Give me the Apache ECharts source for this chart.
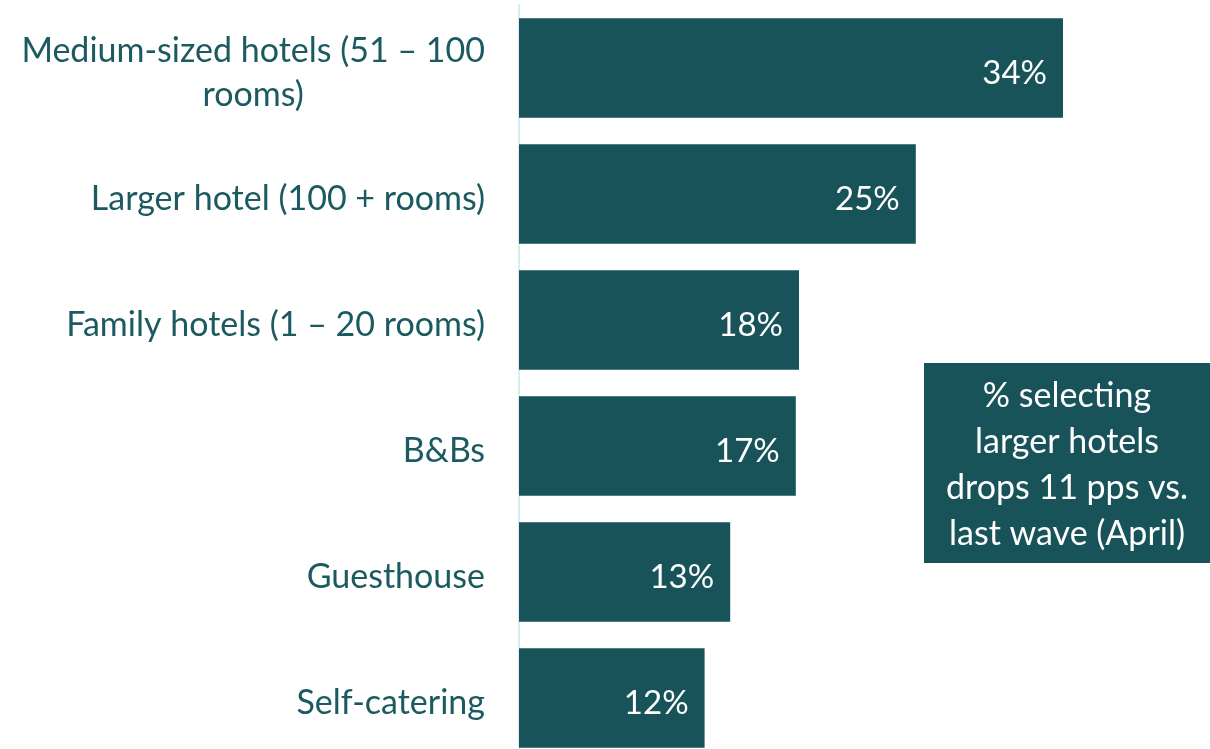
<!DOCTYPE html>
<html>
<head>
<meta charset="utf-8">
<script src="https://cdn.jsdelivr.net/npm/echarts@6/dist/echarts.min.js"></script>
<style>
  html, body { margin: 0; padding: 0; background: #fff; }
  #chart { width: 1210px; height: 749px; }
</style>
</head>
<body>
<div id="chart"></div>
<script>
  // accommodation types, top to bottom
  var categories = [
    'Medium-sized hotels (51 – 100\nrooms)',
    'Larger hotel (100 + rooms)',
    'Family hotels (1 – 20 rooms)',
    'B&Bs',
    'Guesthouse',
    'Self-catering'
  ];
  // share selecting each type (%); labels are rounded
  var shares = [34, 24.8, 17.5, 17.3, 13.2, 11.6];
  var noteText = '% selecting\nlarger hotels\ndrops 11 pps vs.\nlast wave (April)';

  var teal = '#19535a';
  var fontName = 'Lato, "Open Sans", sans-serif';

  var myChart = echarts.init(document.getElementById('chart'));

  var option = {
    animation: false,
    grid: {
      left: 519,
      top: 5,
      width: 640,
      height: 756,
      outerBoundsMode: 'none'
    },
    xAxis: {
      type: 'value',
      min: 0,
      max: 40,
      show: false
    },
    yAxis: {
      type: 'category',
      inverse: true,
      data: categories,
      axisLine: {
        show: true,
        lineStyle: { color: '#d2eff3', width: 2 }
      },
      axisTick: { show: false },
      axisLabel: {
        margin: 34,
        padding: [10, 0, 0, 0],
        color: '#1b5a60',
        fontFamily: fontName,
        fontSize: 34,
        formatter: function (v) {
          // wrapped label is centred line by line
          return v.indexOf('\n') >= 0 ? '{c|' + v + '}' : v;
        },
        rich: {
          c: {
            align: 'center',
            color: '#1b5a60',
            fontFamily: fontName,
            fontSize: 34,
            lineHeight: 44
          }
        }
      }
    },
    series: [
      {
        type: 'bar',
        data: shares,
        barCategoryGap: '21%',
        itemStyle: { color: teal },
        label: {
          show: true,
          position: 'insideRight',
          distance: 16,
          offset: [0, 5],
          color: '#ffffff',
          fontFamily: fontName,
          fontSize: 33,
          formatter: function (p) {
            return Math.round(p.value) + '%';
          }
        }
      }
    ],
    graphic: [
      {
        type: 'group',
        left: 924,
        top: 363,
        children: [
          {
            type: 'rect',
            shape: { x: 0, y: 0, width: 286, height: 200 },
            style: { fill: teal }
          },
          {
            type: 'text',
            x: 143,
            y: 102,
            style: {
              text: noteText,
              fill: '#ffffff',
              font: '34px ' + fontName,
              lineHeight: 46,
              align: 'center',
              verticalAlign: 'middle'
            }
          }
        ]
      }
    ]
  };

  myChart.setOption(option);

  window.addEventListener('resize', function () {
    myChart.resize();
  });
</script>
</body>
</html>
